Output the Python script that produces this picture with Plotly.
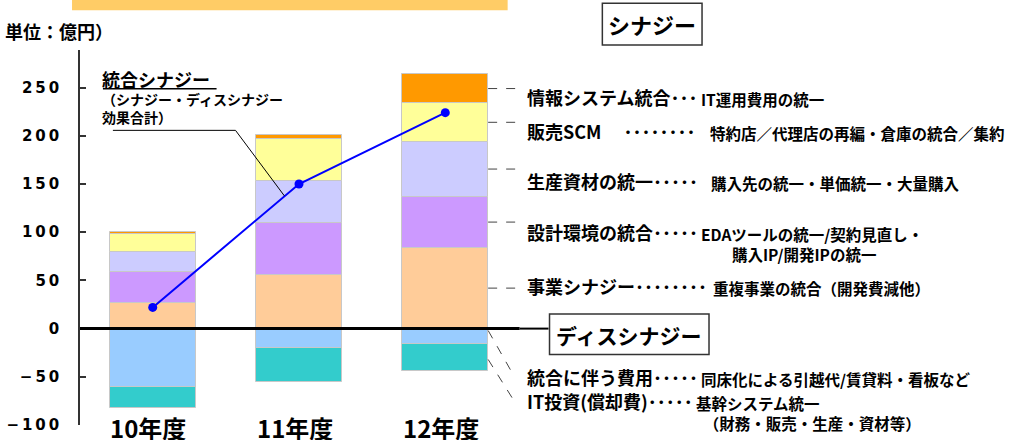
import plotly.graph_objects as go

# ---- data (億円) ----
years = ["10年度", "11年度", "12年度"]

jigyo = [27, 56, 84]        # 事業シナジー
sekkei = [32, 54, 53]       # 設計環境の統合
seisan = [20, 43, 57]       # 生産資材の統一
hanbai = [19, 44, 40]       # 販売SCM
joho = [2, 4, 30]           # 情報システム統合
togo_hiyo = [-61, -20, -16] # 統合に伴う費用
it_toshi = [-21, -35, -28]  # IT投資(償却費)
net_synergy = [22, 150, 224]

y_ticks = [-100, -50, 0, 50, 100, 150, 200, 250]

syn_labels = ["情報システム統合･･･", "販売SCM　 ････････", "生産資材の統一･････",
              "設計環境の統合･････", "事業シナジー････････"]
syn_desc = ["IT運用費用の統一", "特約店／代理店の再編・倉庫の統合／集約",
            "購入先の統一・単価統一・大量購入",
            "EDAツールの統一/契約見直し・<br>　　購入IP/開発IPの統一",
            "重複事業の統合（開発費減他）"]
dis_labels = ["統合に伴う費用･････", "IT投資(償却費)･････"]
dis_desc = ["同床化による引越代/賃貸料・看板など",
            "基幹システム統一<br>　（財務・販売・生産・資材等）"]

# ---- geometry ----
W, H = 1036, 440
ML, MR, MT, MB = 77, 6, 50, 12
PW, PH = W - ML - MR, H - MT - MB
X_RANGE = [-0.497, 5.997]
Y_RANGE = [-100, 289]
ZERO_PX = H - MB - (0 - Y_RANGE[0]) / (Y_RANGE[1] - Y_RANGE[0]) * PH


def px(x):
    return (x - ML) / PW


def py(y):
    return (H - MB - y) / PH


def xdata(x):
    return X_RANGE[0] + (x - ML) / PW * (X_RANGE[1] - X_RANGE[0])


def ydata(y):
    return (ZERO_PX - y) / (PH / (Y_RANGE[1] - Y_RANGE[0]))


JP = "Noto Sans CJK JP"
xs = [0, 1, 2]
BAR_W = 0.586

fig = go.Figure()
stack = [
    (jigyo, "#FFCC99"), (sekkei, "#CC99FF"), (seisan, "#CCCCFF"),
    (hanbai, "#FFFF99"), (joho, "#FF9900"),
    (togo_hiyo, "#99CCFF"), (it_toshi, "#33CCCC"),
]
for vals, col in stack:
    fig.add_trace(go.Bar(
        x=xs, y=vals, width=BAR_W, marker=dict(color=col, line=dict(color="#c8c8c8", width=1)),
        showlegend=False, hoverinfo="skip"))

fig.add_trace(go.Scatter(
    x=xs, y=net_synergy, mode="lines+markers",
    line=dict(color="#0000FF", width=2),
    marker=dict(color="#0000FF", size=9, symbol="circle"),
    showlegend=False, hoverinfo="skip"))

shapes = []
annotations = []


def note(text, x, y, size, xanchor="left", yanchor="middle", xref="paper"):
    annotations.append(dict(text=f"<b>{text}</b>", xref=xref, yref="paper", x=x, y=y,
                            xanchor=xanchor, yanchor=yanchor, align="left", showarrow=False,
                            font=dict(family=JP, size=size, color="black")))


# zero line
shapes.append(dict(type="line", xref="paper", yref="y", x0=px(ML), x1=px(518), y0=0, y1=0,
                   line=dict(color="black", width=3)))
shapes.append(dict(type="line", xref="paper", yref="y", x0=px(518), x1=px(547), y0=0, y1=0,
                   line=dict(color="black", width=2)))

# title band at the very top
shapes.append(dict(type="rect", xref="paper", yref="paper", x0=px(69), x1=px(506),
                   y0=py(10), y1=py(-5), fillcolor="#FFCC66", line=dict(width=0), layer="below"))

# dashed connectors from the 12年度 segments to the labels
right_edge = 2 + BAR_W / 2
cum = 0
for vals in [jigyo, sekkei, seisan, hanbai, joho]:
    mid = cum + vals[2] / 2
    cum += vals[2]
    shapes.append(dict(type="line", xref="x", yref="y", x0=right_edge, x1=xdata(520),
                       y0=mid, y1=mid, line=dict(color="#444", width=1, dash="dash")))
neg_starts = [0, togo_hiyo[2] + it_toshi[2] / 2]
for y0d, yend in zip(neg_starts, [378, 403]):
    shapes.append(dict(type="line", xref="x", yref="y", x0=right_edge, y0=y0d - 2,
                       x1=xdata(512), y1=ydata(yend),
                       line=dict(color="#444", width=1, dash="dash")))

# boxes
shapes.append(dict(type="rect", xref="paper", yref="paper", x0=px(601), x1=px(701),
                   y0=py(45), y1=py(3), line=dict(color="#333", width=1.5)))
shapes.append(dict(type="rect", xref="paper", yref="paper", x0=px(548), x1=px(708),
                   y0=py(357), y1=py(316), line=dict(color="#333", width=1.5)))
note("シナジー", px(651), py(24), 22, xanchor="center")
note("ディスシナジー", px(628), py(337), 21, xanchor="center")

# right-hand labels
main_y = [97, 132, 182, 233, 288]
desc_x = [698, 707, 708, 698, 710]
for lab, d, yy, dx in zip(syn_labels, syn_desc, main_y, desc_x):
    note(lab, px(523), py(yy), 18)
    note(d, px(dx), py(yy - 11), 15.5, yanchor="top")
for lab, d, yy, dx in zip(dis_labels, dis_desc, [380, 404], [698, 693]):
    note(lab, px(523), py(yy), 18)
    note(d, px(dx), py(yy - 11), 15.5, yanchor="top")

# unit label
note("単位：億円）", px(0), py(31), 18)

# net synergy callout (one block, larger first line)
note("<span style='font-size:18px'>統合シナジー</span><br>"
     "（シナジー・ディスシナジー<br>効果合計）", px(97), py(64), 14, yanchor="top")
shapes.append(dict(type="line", xref="paper", yref="paper", x0=px(100), x1=px(214),
                   y0=py(89), y1=py(89), line=dict(color="black", width=1.5)))
shapes.append(dict(type="path", xref="paper", yref="paper",
                   path=f"M {px(110)} {py(131)} L {px(233)} {py(131)} L {px(282)} {py(197)}",
                   line=dict(color="black", width=1)))

# year labels under the bars
for i, yr in enumerate(years):
    note(yr, xs[i] - 0.03, py(411), 24, xanchor="center", yanchor="top", xref="x")

fig.update_layout(
    width=W, height=H, margin=dict(l=ML, r=MR, t=MT, b=MB),
    paper_bgcolor="white", plot_bgcolor="white",
    barmode="relative", bargap=0,
    shapes=shapes, annotations=annotations,
    xaxis=dict(range=X_RANGE, visible=False, fixedrange=True),
    yaxis=dict(range=Y_RANGE, tickvals=y_ticks,
               ticktext=["\u2009".join(str(v).replace("-", "−")) for v in y_ticks],
               showgrid=False, zeroline=False, showline=True, linecolor="#333", linewidth=1.5,
               ticks="inside", ticklen=6, tickcolor="#333", tickwidth=1.5,
               ticklabelstandoff=16,
               tickfont=dict(family="DejaVu Sans", size=15, color="black", weight="bold"),
               fixedrange=True),
)

fig.write_html("out.html")
